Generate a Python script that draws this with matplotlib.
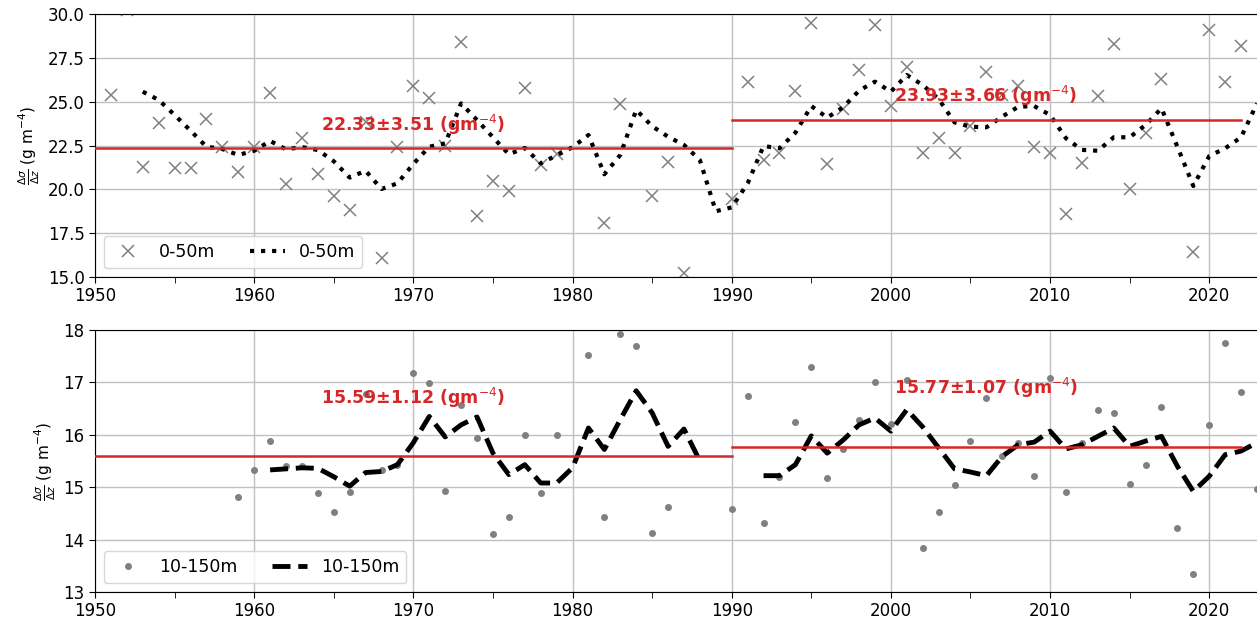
import numpy as np
import matplotlib
matplotlib.use("Agg")
import matplotlib.pyplot as plt
from matplotlib.ticker import MultipleLocator

nan = np.nan
years = np.arange(1950, 2024)

# 0-50m yearly values (x markers)
top_pts = [nan, 25.4, 30.2, 21.3, 23.8, 21.2, 21.2, 24.0, 22.4, 21.0,
           22.4, 25.5, 20.3, 22.95, 20.9, 19.6, 18.8, 23.85, 16.1, 22.4,
           25.9, 25.2, 22.5, 28.4, 18.5, 20.45, 19.9, 25.8, 21.4, 22.0,
           nan, nan, 18.1, 24.85, nan, 19.6, 21.55, 15.2, nan, nan,
           19.45, 26.1, 21.7, 22.1, 25.6, 29.5, 21.45, 24.6, 26.8, 29.4,
           24.75, 27.0, 22.1, 22.9, 22.1, 23.6, 26.7, 25.4, 25.9, 22.4,
           22.1, 18.6, 21.5, 25.3, 28.3, 20.0, 23.2, 26.3, nan, 16.4,
           29.1, 26.1, 28.2, nan]

# 0-50m smoothed
top_smooth = [nan, nan, nan, 25.57, 25.1, 24.24, 23.35, 22.43, 22.3, 21.96,
              22.2, 22.76, 22.28, 22.41, 22.24, 21.6, 20.67, 21.06, 20.02, 20.34,
              21.45, 22.43, 22.62, 24.9, 23.95, 22.97, 22.0, 22.36, 21.48, 21.94,
              22.4, 23.1, 20.86, 21.96, 24.53, 23.6, 23.0, 22.53, 21.67, 18.75,
              18.97, 20.34, 22.47, 22.34, 23.23, 24.75, 24.09, 24.68, 25.63, 26.14,
              25.57, 26.52, 25.95, 25.15, 23.82, 23.57, 23.54, 24.15, 24.71, 24.75,
              24.24, 22.91, 22.25, 22.2, 22.97, 22.97, 23.67, 24.62, 22.43, 20.19,
              21.9, 22.34, 22.97, 24.9]

# 10-150m yearly values (dots)
bot_pts = [nan, nan, nan, nan, nan, nan, nan, nan, nan, 14.81,
           15.32, 15.88, 15.40, 15.41, 14.88, 14.52, 14.91, 16.77, 15.32, 15.43,
           17.18, 16.99, 14.92, 16.56, 15.94, 14.10, 14.44, 16.0, 14.89, 16.0,
           nan, 17.52, 14.43, 17.93, 17.70, 14.12, 14.62, nan, nan, nan,
           14.58, 16.75, 14.32, 15.19, 16.24, 17.29, 15.18, 15.72, 16.28, 17.01,
           16.21, 17.05, 13.84, 14.52, 15.04, 15.88, 16.71, 15.60, 15.85, 15.22,
           17.08, 14.91, 15.84, 16.47, 16.41, 15.07, 15.43, 16.54, 14.23, 13.34,
           16.19, 17.75, 16.82, 14.97]

# 10-150m smoothed
bot_smooth = [nan, nan, nan, nan, nan, nan, nan, nan, nan, nan,
              nan, 15.33, 15.35, 15.37, 15.36, 15.2, 15.02, 15.28, 15.30, 15.43,
              15.85, 16.35, 15.96, 16.19, 16.34, 15.65, 15.24, 15.43, 15.08, 15.08,
              15.37, 16.13, 15.72, 16.29, 16.84, 16.42, 15.78, 16.11, 15.50, nan,
              nan, nan, 15.22, 15.22, 15.43, 15.98, 15.65, 15.9, 16.19, 16.32,
              16.07, 16.48, 16.15, 15.75, 15.35, 15.29, 15.22, 15.59, 15.81, 15.86,
              16.07, 15.73, 15.81, 15.97, 16.13, 15.78, 15.88, 15.97, 15.40, 14.92,
              15.21, 15.62, 15.69, 15.85]

periods = [(1950, 1990), (1990, 2022)]
top_mean = [22.33, 23.93]
top_std = [3.51, 3.66]
bot_mean = [15.59, 15.77]
bot_std = [1.12, 1.07]

fig = plt.figure(figsize=(12.57, 6.24), dpi=100)
ax1 = fig.add_axes([95 / 1257, 347 / 624, 1162 / 1257, 263 / 624])
ax2 = fig.add_axes([95 / 1257, 32 / 624, 1162 / 1257, 262 / 624])

red = '#d62728'
ylab = r'$\frac{\Delta\sigma}{\Delta z}$ (g m$^{-4}$)'


def stats(ax, means, stds, offs):
    for (a, b), m, s, d in zip(periods, means, stds, offs):
        ax.plot([a, b], [m, m], color=red, lw=1.8, zorder=3)
        ax.text(a + 14.2 if a == 1950 else a + 10.2, m + d,
                f'{m:.2f}±{s:.2f} (gm$^{{-4}}$)', color=red,
                fontsize=12.5, fontweight='bold', va='center', zorder=4)


ax1.plot(years, top_pts, 'x', color='gray', ms=8, mew=1.1, label='0-50m')
ax1.plot(years, top_smooth, ':', color='black', lw=3, label='0-50m')
stats(ax1, top_mean, top_std, [1.35, 1.4])
ax1.set_ylim(15, 30)
ax1.set_yticks(np.arange(15, 30.1, 2.5))

ax2.plot(years, bot_pts, 'o', color='gray', ms=4, label='10-150m')
ax2.plot(years, bot_smooth, '--', color='black', lw=3.5, label='10-150m')
stats(ax2, bot_mean, bot_std, [1.12, 1.13])
ax2.set_ylim(13, 18)

for ax in (ax1, ax2):
    ax.set_xlim(1950, 2023)
    ax.xaxis.set_major_locator(MultipleLocator(10))
    ax.xaxis.set_minor_locator(MultipleLocator(5))
    ax.tick_params(which='both', labelsize=12, length=4)
    ax.grid(True, which='major', color='#c0c0c0', lw=1)
    ax.set_axisbelow(True)
    ax.spines['right'].set_visible(False)
    ax.set_ylabel(ylab, fontsize=11)
    ax.legend(loc='lower left', ncol=2, fontsize=12.5)

fig.savefig('out.png', dpi=100)
